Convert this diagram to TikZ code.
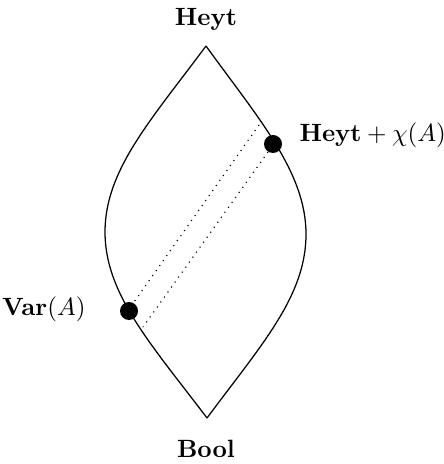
\documentclass[tikz,border=0pt]{standalone}
\usepackage{amsmath,amssymb}
\usepackage{tikz}
\usetikzlibrary{positioning,calc}

\begin{document}
\begin{tikzpicture}[
  x=0.4pt, y=-0.4pt,
  dot/.style={circle,fill=black,inner sep=0pt,minimum size=7.2pt},
  lbl/.style={inner sep=0pt,font=\normalsize},
  edge/.style={line width=0.5pt},
  strip/.style={dotted,line width=0.45pt}
]
  \useasboundingbox (0,0) rectangle (444,464);
  % Lattice ends
  \node[lbl,anchor=base] (heyt) at (206,26)  {$\mathbf{Heyt}$};
  \node[lbl,anchor=base] (bool) at (206,457) {$\mathbf{Bool}$};
  \coordinate (top) at (206,46);
  \coordinate (bot) at (207,418);

  % The two chains
  \draw[edge] (top) .. controls (151,120) and (105,170) .. (105,232)
                    .. controls (105,294) and (151,344) .. (bot);
  \draw[edge] (top) .. controls (258,118) and (306,172) .. (306,234)
                    .. controls (306,296) and (262,344) .. (bot);

  % Points and the strip between them
  \node[dot] (chi) at (273,144) {};
  \node[dot] (var) at (129,311) {};
  \coordinate (a1) at (259,125);
  \coordinate (a2) at (134,302);
  \coordinate (b1) at (268,152);
  \coordinate (b2) at (143,327);
  \draw[strip] (a1) -- (a2);
  \draw[strip] (b1) -- (b2);

  \node[lbl,anchor=base west] (chilbl) at (299,142) {$\mathbf{Heyt}+\chi(A)$};
  \node[lbl,anchor=base east] (varlbl) at (86,315)  {$\mathbf{Var}(A)$};
\end{tikzpicture}
\end{document}
